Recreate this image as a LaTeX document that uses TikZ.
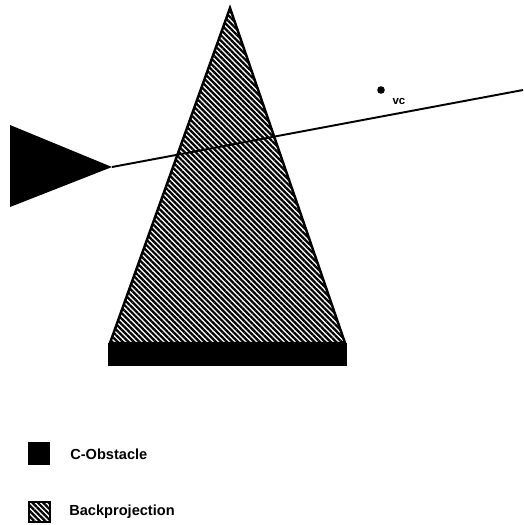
\documentclass[tikz,border=0pt]{standalone}
\usepackage{fontspec}
\setmainfont{Liberation Sans}
\usetikzlibrary{patterns.meta, positioning}

\begin{document}
\begin{tikzpicture}[x=0.02cm, y=-0.02cm, font=\fontsize{8.3}{10}\selectfont\bfseries,
    hatch/.style={pattern={Lines[angle=-45, distance=2.2pt, line width=1.3pt]}, pattern color=black},
    obst/.style={fill=black},
    lbl/.style={anchor=west, inner sep=0pt}]
\useasboundingbox (0,0) rectangle (524,525);
% Backprojection
\draw[hatch, line width=1.4pt, line join=miter] (230,8) -- (345,343) -- (110,343) -- cycle;
% C-Obstacles
\fill[obst] (108,343) rectangle (347,366);
\coordinate (tip) at (112,167);
\fill[obst] (10,125) -- (tip) -- (10,207) -- cycle;
% Ray
\coordinate (rayend) at (523,90);
\draw[line width=1.1pt] (tip) -- (rayend);
\fill (381,90) circle (3.8);
\node[font=\fontsize{6.5}{8}\selectfont\bfseries, inner sep=0pt] (vc) at (399,101) {vc};
% Legend
\fill[obst] (28,442) rectangle (50,465);
\node[lbl] (obstlbl) at (70,454) {C-Obstacle};
\draw[hatch, line width=0.8pt] (29,502) rectangle (50,522);
\node[lbl] (backlbl) at (69,512) {Backprojection};
\end{tikzpicture}
\end{document}
